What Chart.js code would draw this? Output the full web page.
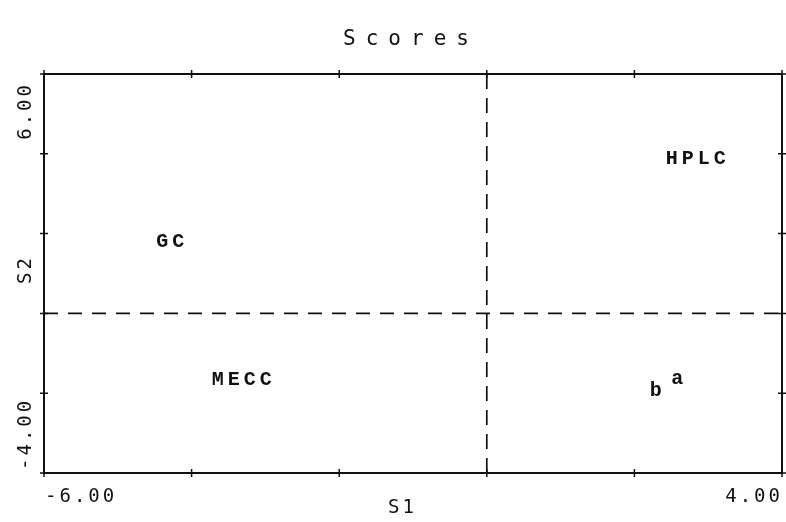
<!DOCTYPE html>
<html>
<head>
<meta charset="utf-8">
<title>Scores</title>
<script src="https://cdn.jsdelivr.net/npm/chart.js@4.4.1/dist/chart.umd.min.js"></script>
<style>
  html, body { margin: 0; padding: 0; background: #fff; }
  #scores { display: block; }
</style>
</head>
<body>
<canvas id="scores" width="786" height="522"></canvas>
<script>
// score plot: method names placed at their (S1, S2) scores
var methods = ['GC', 'HPLC', 'MECC', 'b', 'a'];
var s1Scores = [-4.29, 2.83, -3.32, 2.29, 2.58];
var s2Scores = [1.81, 3.90, -1.64, -1.93, -1.61];

var s1Range = [-6, 4];
var s2Range = [-4, 6];
var tickStep = 2;
var s1TickLabels = ['-6.00', '4.00'];
var s2TickLabels = ['-4.00', '6.00'];

var ink = '#111';
var plotFont = '"DejaVu Sans Mono", monospace';
var markFont = 'bold 20px "Liberation Mono", "Courier New", monospace';

// canvas letterSpacing adds space after the last glyph too, so trim it for centring
function spacedText(ctx, text, x, y, spacing, align) {
  ctx.letterSpacing = spacing + 'px';
  var w = ctx.measureText(text).width - spacing;
  var start = x;
  if (align === 'center') start = x - w / 2;
  else if (align === 'right') start = x - w;
  ctx.textAlign = 'left';
  ctx.fillText(text, start, y);
  ctx.letterSpacing = '0px';
}

var framePlugin = {
  id: 'frame',
  afterDraw: function(chart) {
    var ctx = chart.ctx;
    var area = chart.chartArea;
    var xs = chart.scales.x;
    var ys = chart.scales.y;
    ctx.save();
    ctx.strokeStyle = ink;
    ctx.fillStyle = ink;

    // dashed zero lines
    ctx.lineWidth = 1.7;
    ctx.setLineDash([14, 10]);
    var x0 = xs.getPixelForValue(0);
    var y0 = ys.getPixelForValue(0);
    ctx.beginPath();
    ctx.moveTo(area.left, y0);
    ctx.lineTo(area.right, y0);
    ctx.stroke();
    ctx.setLineDash([15, 9]);
    ctx.beginPath();
    ctx.moveTo(x0, area.top);
    ctx.lineTo(x0, area.bottom);
    ctx.stroke();
    ctx.setLineDash([]);

    // frame
    ctx.lineWidth = 2;
    ctx.strokeRect(area.left, area.top, area.right - area.left, area.bottom - area.top);

    // small crossing ticks on all four sides
    ctx.lineWidth = 1.5;
    ctx.beginPath();
    xs.ticks.forEach(function(t) {
      var px = xs.getPixelForValue(t.value);
      ctx.moveTo(px, area.top - 4); ctx.lineTo(px, area.top + 4);
      ctx.moveTo(px, area.bottom - 4); ctx.lineTo(px, area.bottom + 4);
    });
    ys.ticks.forEach(function(t) {
      var py = ys.getPixelForValue(t.value);
      ctx.moveTo(area.left - 4, py); ctx.lineTo(area.left + 4, py);
      ctx.moveTo(area.right - 4, py); ctx.lineTo(area.right + 4, py);
    });
    ctx.stroke();

    // end tick labels, aligned inwards
    ctx.font = '19px ' + plotFont;
    ctx.textBaseline = 'middle';
    spacedText(ctx, s1TickLabels[0], xs.getPixelForValue(s1Range[0]) + 1, area.bottom + 24, 3, 'left');
    spacedText(ctx, s1TickLabels[1], xs.getPixelForValue(s1Range[1]) - 2, area.bottom + 24, 3, 'right');

    ctx.save();
    ctx.translate(26, 0);
    ctx.rotate(-Math.PI / 2);
    spacedText(ctx, s2TickLabels[0], -ys.getPixelForValue(s2Range[0]) + 3, 0, 3, 'left');
    spacedText(ctx, s2TickLabels[1], -ys.getPixelForValue(s2Range[1]) - 11, 0, 3, 'right');
    spacedText(ctx, 'S2', -271, 0, 3, 'center');
    ctx.restore();

    // axis title and chart title
    spacedText(ctx, 'S1', 401, area.bottom + 35, 3, 'center');
    ctx.font = '21px ' + plotFont;
    spacedText(ctx, 'Scores', 406, 40, 10, 'center');

    // method names at their scores
    ctx.font = markFont;
    ctx.textBaseline = 'middle';
    chart.data.datasets[0].data.forEach(function(p, i) {
      var px = xs.getPixelForValue(p.x);
      var py = ys.getPixelForValue(p.y);
      spacedText(ctx, methods[i], px, py + 1, 4, 'center');
    });
    ctx.restore();
  }
};

new Chart(document.getElementById('scores'), {
  type: 'scatter',
  data: {
    datasets: [{
      label: 'Scores',
      data: methods.map(function(m, i) { return { x: s1Scores[i], y: s2Scores[i] }; }),
      pointRadius: 0,
      pointHoverRadius: 0
    }]
  },
  options: {
    responsive: false,
    animation: false,
    events: [],
    layout: { padding: { left: 36, right: 4, top: 74, bottom: 41 } },
    plugins: { legend: { display: false }, tooltip: { enabled: false } },
    scales: {
      x: {
        type: 'linear', min: s1Range[0], max: s1Range[1],
        ticks: { display: false, stepSize: tickStep },
        grid: { display: false }, border: { display: false }
      },
      y: {
        type: 'linear', min: s2Range[0], max: s2Range[1],
        ticks: { display: false, stepSize: tickStep },
        grid: { display: false }, border: { display: false }
      }
    }
  },
  plugins: [framePlugin]
});
</script>
</body>
</html>
